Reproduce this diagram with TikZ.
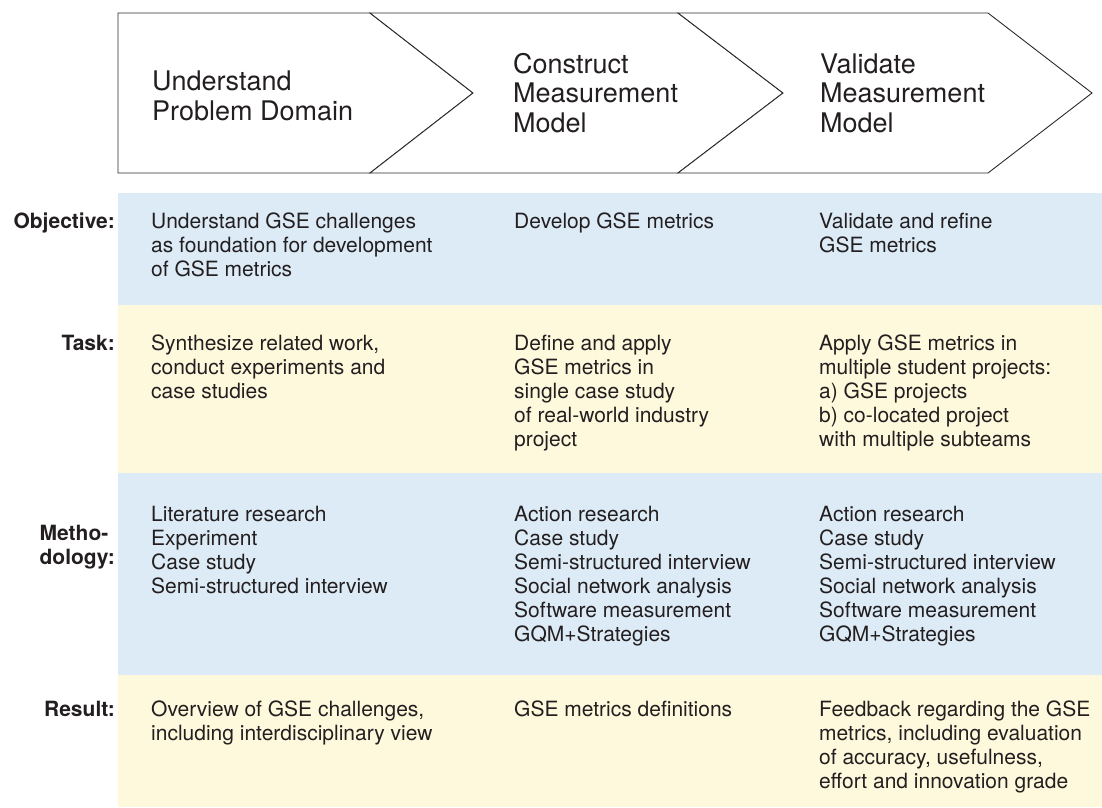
\documentclass[tikz,border=0pt]{standalone}
\usepackage{fontspec}
\setmainfont{TeX Gyre Heros}
\definecolor{bandblue}{HTML}{DDEBF7}
\definecolor{bandyellow}{HTML}{FEF9DC}
\definecolor{ink}{HTML}{231F20}
\definecolor{edge}{HTML}{2B2B2B}
\begin{document}
\begin{tikzpicture}[x=1pt,y=-1pt,
  chevron/.style={draw=edge,line width=0.9pt,fill=white,line join=miter},
  headtext/.style={anchor=base west,inner sep=0pt,text=ink,font=\fontsize{27}{29.5}\selectfont},
  celltext/.style={anchor=base west,inner sep=0pt,text=ink,font=\fontsize{21}{24}\selectfont},
  rowlabel/.style={anchor=base east,inner sep=0pt,text=ink,font=\fontsize{21}{24}\selectfont\bfseries},
  band/.style={draw=none}]
\useasboundingbox (0,0) rectangle (1102,807);
% bands
\fill[bandblue]   (118,193) rectangle (1102,305);
\fill[bandyellow] (118,305) rectangle (1102,473);
\fill[bandblue]   (118,473) rectangle (1102,675);
\fill[bandyellow] (118,675) rectangle (1102,807);
% chevrons
\draw[chevron] (118,13) -- (370,13) -- (473,93) -- (370,173) -- (118,173) -- cycle;
\draw[chevron] (370,13) -- (678,13) -- (783,93) -- (678,173) -- (370,173) -- (473,93) -- cycle;
\draw[chevron] (678,13) -- (988,13) -- (1092,93) -- (988,173) -- (678,173) -- (783,93) -- cycle;
% header texts
\node[headtext] (h1) at (152,90.7) {\begin{tabular}[t]{@{}l@{}}Understand\\Problem Domain\end{tabular}};
\node[headtext] (h2) at (513,73) {\begin{tabular}[t]{@{}l@{}}Construct\\Measurement\\Model\end{tabular}};
\node[headtext] (h3) at (820,73) {\begin{tabular}[t]{@{}l@{}}Validate\\Measurement\\Model\end{tabular}};
% row labels
\node[rowlabel] (lobj) at (115,228) {Objective:};
\node[rowlabel] (ltask) at (115,350) {Task:};
\node[rowlabel] (lmeth) at (115,540) {\begin{tabular}[t]{@{}l@{}}Metho-\\dology:\end{tabular}};
\node[rowlabel] (lres) at (115,716) {Result:};
% objective
\node[celltext] (o1) at (151,228) {\begin{tabular}[t]{@{}l@{}}Understand GSE challenges\\as foundation for development\\of GSE metrics\end{tabular}};
\node[celltext] (o2) at (514,228) {Develop GSE metrics};
\node[celltext] (o3) at (819,228) {\begin{tabular}[t]{@{}l@{}}Validate and refine\\GSE metrics\end{tabular}};
% task
\node[celltext] (t1) at (151,350) {\begin{tabular}[t]{@{}l@{}}Synthesize related work,\\conduct experiments and\\case studies\end{tabular}};
\node[celltext] (t2) at (514,350) {\begin{tabular}[t]{@{}l@{}}Define and apply\\GSE metrics in\\single case study\\of real-world industry\\project\end{tabular}};
\node[celltext] (t3) at (819,350) {\begin{tabular}[t]{@{}l@{}}Apply GSE metrics in\\multiple student projects:\\a) GSE projects\\b) co-located project\\with multiple subteams\end{tabular}};
% methodology
\node[celltext] (m1) at (151,521.7) {\begin{tabular}[t]{@{}l@{}}Literature research\\Experiment\\Case study\\Semi-structured interview\end{tabular}};
\node[celltext] (m2) at (514,521.7) {\begin{tabular}[t]{@{}l@{}}Action research\\Case study\\Semi-structured interview\\Social network analysis\\Software measurement\\GQM+Strategies\end{tabular}};
\node[celltext] (m3) at (819,521.7) {\begin{tabular}[t]{@{}l@{}}Action research\\Case study\\Semi-structured interview\\Social network analysis\\Software measurement\\GQM+Strategies\end{tabular}};
% result
\node[celltext] (r1) at (151,716) {\begin{tabular}[t]{@{}l@{}}Overview of GSE challenges,\\including interdisciplinary view\end{tabular}};
\node[celltext] (r2) at (514,716) {GSE metrics definitions};
\node[celltext] (r3) at (819,716) {\begin{tabular}[t]{@{}l@{}}Feedback regarding the GSE\\metrics, including evaluation\\of accuracy, usefulness,\\effort and innovation grade\end{tabular}};
\end{tikzpicture}
\end{document}
